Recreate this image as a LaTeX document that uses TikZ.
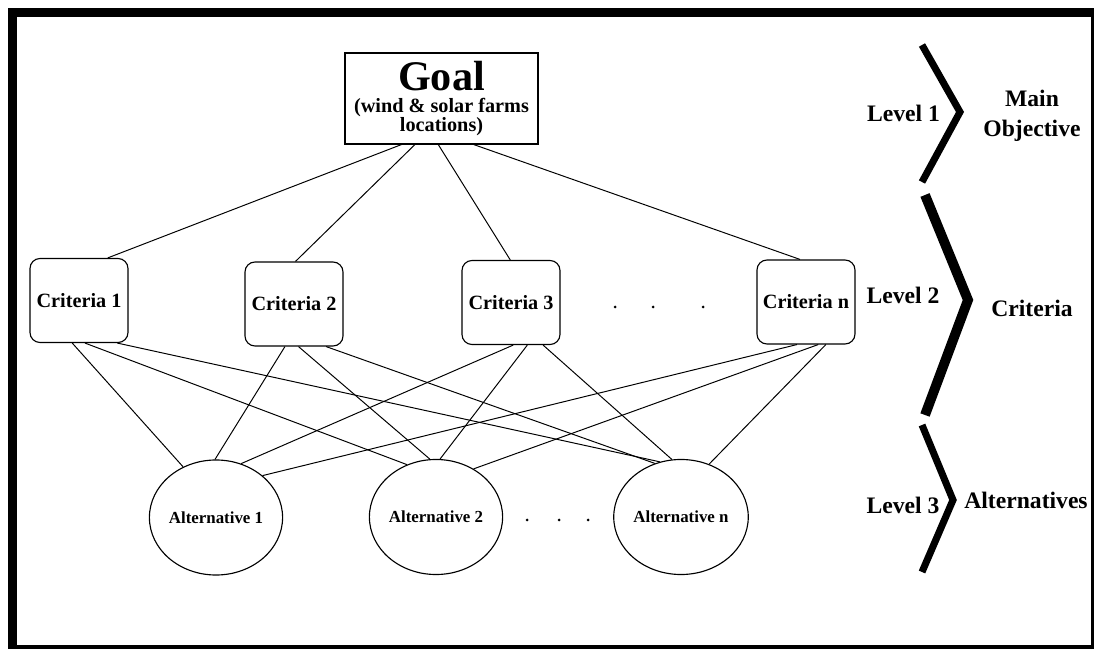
\documentclass[tikz,border=0pt]{standalone}
\usepackage{fontspec}
\setmainfont{Liberation Serif}
\usetikzlibrary{shapes.geometric}
\tikzstyle{goalbox} = [rectangle, draw, line width=0.8pt, minimum width=4.825cm, minimum height=2.275cm, align=center, inner sep=0pt, font=\fontsize{14.4}{13.6}\selectfont\bfseries]
\tikzstyle{crit} = [rectangle, draw, line width=0.8pt, rounded corners=0.25cm, minimum width=2.45cm, minimum height=2.1cm, font=\fontsize{14.4}{16}\selectfont\bfseries]
\tikzstyle{alt} = [ellipse, draw, line width=0.8pt, minimum width=2.625cm, minimum height=2.875cm, inner sep=0pt, font=\fontsize{12}{14}\selectfont\bfseries]
\tikzstyle{link} = [line width=0.7pt]
\tikzstyle{level} = [font=\fontsize{16.8}{21}\selectfont\bfseries, align=center, inner sep=0pt]
\tikzstyle{chevron} = [line width=5pt, miter limit=10]

\begin{document}
\begin{tikzpicture}[x=0.025cm, y=-0.025cm]

    % Frame
    \useasboundingbox (0,0) rectangle (1094,649);
    \fill[black] (8,8) rectangle (1094,649);
    \fill[white] (17,17) rectangle (1091,645);

    % Goal
    \node (goal) [goalbox] at (441.5,98.5) {{\fontsize{30}{30}\selectfont Goal}\\[2pt](wind \& solar farms\\locations)};

    % Criteria
    \node (crit1) [crit] at (79,300.5) {Criteria 1};
    \node (crit2) [crit] at (294,304) {Criteria 2};
    \node (crit3) [crit] at (511,302.5) {Criteria 3};
    \node (critn) [crit] at (806,302) {Criteria n};

    % Alternatives
    \node (alt1) [alt] at (216,517.5) {Alternative 1};
    \node (alt2) [alt] at (436,517) {Alternative 2};
    \node (altn) [alt] at (681,517) {Alternative n};

    % Dots
    \fill (615,307) circle (1.5);
    \fill (653,307) circle (1.5);
    \fill (703,307) circle (1.5);
    \fill (527,520) circle (1.5);
    \fill (559,520) circle (1.5);
    \fill (588,520) circle (1.5);

    % ==== Lines
    % Goal to criteria
    \draw [link] (goal.-131) -- (crit1.56.6);
    \draw [link] (goal.-120.2) -- (crit2.88.6);
    \draw [link] (goal.-94.4) -- (crit3.91.3);
    \draw [link] (goal.-55.3) -- (critn.98.1);

    % Criteria to alternatives
    \draw [link] (crit1.-99.4) -- (alt1.123.2);
    \draw [link] (crit1.-82) -- (alt2.119.2);
    \draw [link] (crit1.-48.2) -- (altn.111.8);

    \draw [link] (crit2.-102.1) -- (alt1.91);
    \draw [link] (crit2.-84.6) -- (alt2.96);
    \draw [link] (crit2.-53.6) -- (altn.116.1);

    \draw [link] (crit3.-87.3) -- (alt1.65.4);
    \draw [link] (crit3.-69.4) -- (alt2.86);
    \draw [link] (crit3.-53.9) -- (altn.99);

    \draw [link] (critn.-102.1) -- (alt1.42.4);
    \draw [link] (critn.-74) -- (alt2.52.3);
    \draw [link] (critn.-65.7) -- (altn.62.5);

    % Levels
    \draw [chevron] (922,45) -- (960,112) -- (922,182);
    \draw [chevron, line width=7pt] (925,195) -- (968,300) -- (925,415);
    \draw [chevron] (922,425) -- (953,500) -- (922,572);

    \node (lvl1) [level] at (903.5,113) {Level 1};
    \node (lvl2) [level] at (903,295) {Level 2};
    \node (lvl3) [level] at (903,505) {Level 3};

    \node (obj) [level] at (1032,116) {Main\\Objective};
    \node (critlbl) [level] at (1032,308) {Criteria};
    \node (altlbl) [level] at (1026,500) {Alternatives};

\end{tikzpicture}
\end{document}
